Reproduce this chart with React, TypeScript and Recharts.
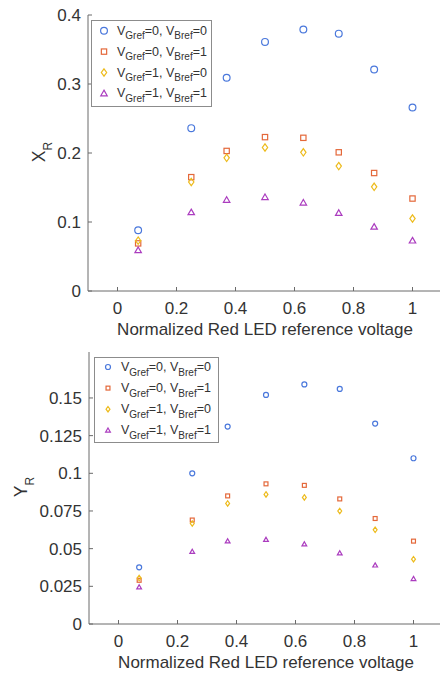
import React from 'react';
import { ScatterChart, Scatter, XAxis, YAxis } from 'recharts';

// x: normalized red LED reference voltage
const voltage = [0.07, 0.25, 0.37, 0.5, 0.63, 0.75, 0.87, 1.0];
const xTicks = [0, 0.2, 0.4, 0.6, 0.8, 1];

// X_R for each (Vgref, Vbref) combination
const xrG0B0 = [0.088, 0.236, 0.309, 0.361, 0.379, 0.373, 0.321, 0.266];
const xrG0B1 = [0.069, 0.165, 0.203, 0.223, 0.222, 0.201, 0.171, 0.134];
const xrG1B0 = [0.073, 0.158, 0.193, 0.208, 0.201, 0.181, 0.151, 0.105];
const xrG1B1 = [0.059, 0.114, 0.132, 0.136, 0.128, 0.113, 0.093, 0.073];
const xrTicks = [0, 0.1, 0.2, 0.3, 0.4];

// Y_R for each (Vgref, Vbref) combination
const yrG0B0 = [0.0376, 0.1, 0.131, 0.152, 0.159, 0.156, 0.133, 0.11];
const yrG0B1 = [0.029, 0.069, 0.085, 0.093, 0.092, 0.083, 0.07, 0.055];
const yrG1B0 = [0.0305, 0.0667, 0.08, 0.086, 0.084, 0.075, 0.0625, 0.043];
const yrG1B1 = [0.0245, 0.048, 0.055, 0.056, 0.053, 0.047, 0.039, 0.03];
const yrTicks = [0, 0.025, 0.05, 0.075, 0.1, 0.125, 0.15];

const gref = ['0', '0', '1', '1'];
const bref = ['0', '1', '0', '1'];

const COLORS = ['#4a78dc', '#e4683a', '#edbb1c', '#ab3cbf'];
const KINDS = ['circle', 'square', 'diamond', 'triangle'];
const FONT = '"Liberation Sans", Arial, Helvetica, sans-serif';
const AXIS = '#6a6a6a';
const TEXT = '#333333';
const FS = 17;

function Marker({ cx, cy, kind, color, s }: any) {
  if (cx == null || cy == null) return null;
  const common = { fill: 'none', stroke: color, strokeWidth: 1.2 };
  if (kind === 'circle') return <circle cx={cx} cy={cy} r={s} {...common} />;
  if (kind === 'square') {
    const h = s * 0.78;
    return <rect x={cx - h} y={cy - h} width={2 * h} height={2 * h} {...common} />;
  }
  if (kind === 'diamond') {
    const w = s * 0.78;
    const h = s * 1.08;
    return <path d={`M${cx},${cy - h}L${cx + w},${cy}L${cx},${cy + h}L${cx - w},${cy}Z`} {...common} />;
  }
  const w = s * 0.95;
  return (
    <path
      d={`M${cx},${cy - s * 0.95}L${cx + w},${cy + s * 0.7}L${cx - w},${cy + s * 0.7}Z`}
      {...common}
    />
  );
}

const BottomTick = ({ x, y, payload }: any) => (
  <g>
    <line x1={x} y1={y} x2={x} y2={y - 4} stroke={AXIS} />
    <text x={x} y={y + 23} textAnchor="middle" fontSize={FS} fill={TEXT} fontFamily={FONT}>
      {String(payload.value)}
    </text>
  </g>
);

const TopTick = ({ x, y }: any) => <line x1={x} y1={y} x2={x} y2={y + 4} stroke={AXIS} />;

const LeftTick = ({ x, y, payload }: any) => (
  <g>
    <line x1={x} y1={y} x2={x + 4} y2={y} stroke={AXIS} />
    <text x={x - 7} y={y + 6} textAnchor="end" fontSize={FS} fill={TEXT} fontFamily={FONT}>
      {String(payload.value)}
    </text>
  </g>
);

function Panel({
  height,
  top,
  axisH,
  axisW,
  right,
  series,
  yMax,
  yTicks,
  letter,
  labelX,
  labelOffset,
  s,
  legend,
}: any) {
  const yLabel = (p: any) => {
    const vb = p.viewBox || {};
    const cy = vb.y + vb.height / 2 - 1;
    return (
      <text
        x={labelX}
        y={cy}
        transform={`rotate(-90, ${labelX}, ${cy})`}
        textAnchor="middle"
        fontSize={17.5}
        fill={TEXT}
        fontFamily={FONT}
      >
        {letter}
        <tspan dy={7} fontSize={12}>R</tspan>
      </text>
    );
  };

  return (
    <div style={{ position: 'relative', width: 450, height }}>
      <ScatterChart width={450} height={height} margin={{ top, right, bottom: 0, left: 0 }}>
        <XAxis
          xAxisId="t"
          orientation="top"
          type="number"
          domain={[-0.1, 1.1]}
          ticks={xTicks}
          height={0}
          tickSize={0}
          tickMargin={0}
          tick={<TopTick />}
          tickLine={false}
          axisLine={{ stroke: AXIS }}
          allowDataOverflow
        />
        <XAxis
          dataKey="v"
          type="number"
          domain={[-0.1, 1.1]}
          ticks={xTicks}
          height={axisH}
          tickSize={0}
          tickMargin={0}
          tick={<BottomTick />}
          tickLine={false}
          axisLine={{ stroke: AXIS }}
          allowDataOverflow
          label={{
            value: 'Normalized Red LED reference voltage',
            position: 'insideBottom',
            offset: labelOffset,
            fontSize: FS,
            fill: TEXT,
            fontFamily: FONT,
          }}
        />
        <YAxis
          dataKey="val"
          type="number"
          domain={[0, yMax]}
          ticks={yTicks}
          width={axisW}
          tickSize={0}
          tickMargin={0}
          tick={<LeftTick />}
          tickLine={false}
          axisLine={{ stroke: AXIS }}
          allowDataOverflow
          label={yLabel}
        />
        {series.map((vals: number[], i: number) => (
          <Scatter
            key={i}
            name={`G${gref[i]}B${bref[i]}`}
            data={voltage.map((v, j) => ({ v, val: vals[j] }))}
            isAnimationActive={false}
            shape={(p: any) => <Marker cx={p.cx} cy={p.cy} kind={KINDS[i]} color={COLORS[i]} s={s} />}
          />
        ))}
      </ScatterChart>
      <svg
        width={450}
        height={height}
        style={{ position: 'absolute', left: 0, top: 0, pointerEvents: 'none' }}
      >
        <rect
          x={legend.x + 0.5}
          y={legend.y + 0.5}
          width={legend.w}
          height={legend.h}
          fill="#fff"
          stroke="#8c8c8c"
        />
        {series.map((_: any, i: number) => {
          const cy = legend.row0 + i * legend.step;
          return (
            <g key={i}>
              <Marker cx={legend.mx} cy={cy} kind={KINDS[i]} color={COLORS[i]} s={s} />
              <text x={legend.tx} y={cy + 4} fontSize={12.5} fill={TEXT} fontFamily={FONT}>
                V<tspan dy={4.5} fontSize={10}>Gref</tspan>
                <tspan dy={-4.5}>={gref[i]}, V</tspan>
                <tspan dy={4.5} fontSize={10}>Bref</tspan>
                <tspan dy={-4.5}>={bref[i]}</tspan>
              </text>
            </g>
          );
        })}
      </svg>
    </div>
  );
}

export default function App() {
  return (
    <div
      style={{
        position: 'absolute',
        left: 0,
        top: 0,
        width: 440,
        height: 673,
        overflow: 'hidden',
        background: '#fff',
      }}
    >
      <div style={{ position: 'absolute', left: 0, top: 0 }}>
        <Panel
          height={341}
          top={15}
          axisH={50}
          axisW={88}
          right={8}
          series={[xrG0B0, xrG0B1, xrG1B0, xrG1B1]}
          yMax={0.4}
          yTicks={xrTicks}
          letter="X"
          labelX={45}
          labelOffset={6}
          s={3.4}
          legend={{ x: 91, y: 20, w: 120, h: 86, mx: 104, tx: 117, row0: 30.7, step: 20.9 }}
        />
      </div>
      <div style={{ position: 'absolute', left: 0, top: 336 }}>
        <Panel
          height={337}
          top={16}
          axisH={49}
          axisW={89}
          right={7}
          series={[yrG0B0, yrG0B1, yrG1B0, yrG1B1]}
          yMax={0.1805}
          yTicks={yrTicks}
          letter="Y"
          labelX={27}
          labelOffset={5}
          s={2.5}
          legend={{ x: 94, y: 21, w: 124, h: 85, mx: 108, tx: 121, row0: 31, step: 21.1 }}
        />
      </div>
    </div>
  );
}
